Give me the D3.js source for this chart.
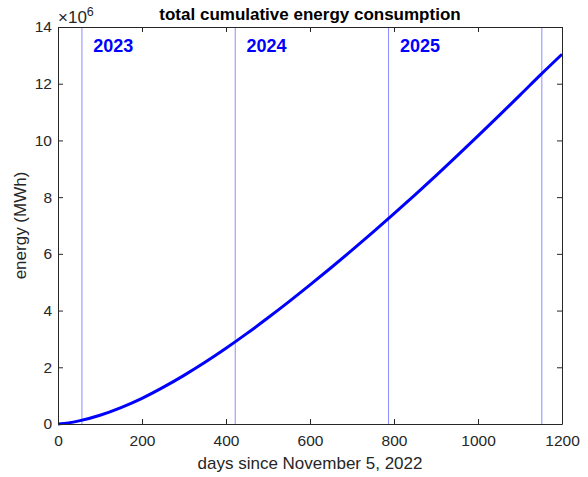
<!DOCTYPE html>
<html>
<head>
<meta charset="utf-8">
<script src="https://cdn.jsdelivr.net/npm/d3@7"></script>
<style>
  html, body { margin: 0; padding: 0; background: #fff; }
  svg { display: block; font-family: "Liberation Sans", Arial, Helvetica, sans-serif; }
</style>
</head>
<body>
<svg id="chart" width="588" height="477"></svg>
<script>
// ---- data ----
const days   = [0, 25, 50, 100, 150, 200, 250, 300, 350, 400, 450, 500, 550, 600, 650, 700, 750,
                800, 850, 900, 950, 1000, 1050, 1100, 1150, 1200];
const energy = [0, 0.04e6, 0.11e6, 0.31e6, 0.58e6, 0.905e6, 1.29e6, 1.715e6, 2.175e6, 2.67e6, 3.195e6, 3.745e6,
                4.315e6, 4.905e6, 5.51e6, 6.13e6, 6.765e6, 7.415e6, 8.08e6, 8.76e6, 9.455e6, 10.16e6,
                10.875e6, 11.60e6, 12.33e6, 13.04e6];
const yearLines  = [57, 422, 787, 1152];          // Jan 1 of 2023..2026 in days since Nov 5, 2022
const yearLabels = ["2023", "2024", "2025"];
const xTicks = [0, 200, 400, 600, 800, 1000, 1200];
const yTicks = [0, 2e6, 4e6, 6e6, 8e6, 10e6, 12e6, 14e6];
const titleText = "total cumulative energy consumption";
const xLabelText = "days since November 5, 2022";
const yLabelText = "energy (MWh)";

// ---- layout ----
const svg = d3.select("#chart");
const L = 58, R = 562, T = 27, B = 424;
const x = d3.scaleLinear().domain([0, 1200]).range([L, R]);
const y = d3.scaleLinear().domain([0, 14e6]).range([B, T]);
const axisColor = "#262626";
const FONT = "'Liberation Sans', Arial, Helvetica, sans-serif";

// year separator lines
svg.append("g").selectAll("line").data(yearLines).join("line")
  .attr("x1", d => x(d)).attr("x2", d => x(d))
  .attr("y1", y(0)).attr("y2", y(14e6))
  .attr("stroke", "#8c8cff").attr("stroke-width", 1);

// year labels
svg.append("g").selectAll("text").data(yearLabels).join("text")
  .attr("x", (d, i) => x(yearLines[i] + 27))
  .attr("y", y(13.13e6))
  .attr("fill", "#0000ff")
  .attr("font-weight", "bold")
  .attr("font-size", "18px")
  .attr("font-family", FONT)
  .text(d => d);

// curve
const pts = days.map((d, i) => [d, energy[i]]);
svg.append("path").datum(pts)
  .attr("fill", "none")
  .attr("stroke", "#0000ff")
  .attr("stroke-width", 3)
  .attr("stroke-linejoin", "round")
  .attr("d", d3.line().x(d => x(d[0])).y(d => y(d[1])).curve(d3.curveMonotoneX));

// axes
function styleAxis(g) {
  g.selectAll(".domain").attr("stroke", axisColor);
  g.selectAll(".tick line").attr("stroke", axisColor);
  g.selectAll(".tick text").attr("fill", axisColor).attr("font-size", "15.5px").attr("font-family", FONT);
}
svg.append("g").attr("transform", `translate(0,${B})`)
  .call(d3.axisBottom(x).tickValues(xTicks).tickSizeInner(-5).tickSizeOuter(0).tickPadding(11).tickFormat(d3.format("d")))
  .call(styleAxis);
svg.append("g").attr("transform", `translate(0,${T})`)
  .call(d3.axisTop(x).tickValues(xTicks).tickSizeInner(-5).tickSizeOuter(0).tickFormat(""))
  .call(styleAxis);
svg.append("g").attr("transform", `translate(${L},0)`)
  .call(d3.axisLeft(y).tickValues(yTicks).tickSizeInner(-5).tickSizeOuter(0).tickPadding(6).tickFormat(d => d3.format("d")(d / 1e6)))
  .call(styleAxis);
svg.append("g").attr("transform", `translate(${R},0)`)
  .call(d3.axisRight(y).tickValues(yTicks).tickSizeInner(-5).tickSizeOuter(0).tickFormat(""))
  .call(styleAxis);

// exponent
const ex = svg.append("text").attr("x", L).attr("y", 23).attr("fill", axisColor)
  .style("font-size", "17px").style("font-family", FONT);
ex.append("tspan").text("\u00d710");
ex.append("tspan").style("font-size", "12.5px").attr("dy", -7).text("6");

// title
svg.append("text").attr("x", (L + R) / 2).attr("y", 20)
  .attr("text-anchor", "middle").attr("font-weight", "bold").attr("font-size", "17px").attr("fill", "#000")
  .attr("font-family", FONT)
  .text(titleText);

// x label
svg.append("text").attr("x", (L + R) / 2).attr("y", 468.5)
  .attr("text-anchor", "middle").attr("font-size", "17px").attr("fill", axisColor).attr("font-family", FONT)
  .text(xLabelText);

// y label
svg.append("text").attr("transform", `translate(26,${(T + B) / 2}) rotate(-90)`)
  .attr("text-anchor", "middle").attr("font-size", "17px").attr("fill", axisColor).attr("font-family", FONT)
  .text(yLabelText);
</script>
</body>
</html>
